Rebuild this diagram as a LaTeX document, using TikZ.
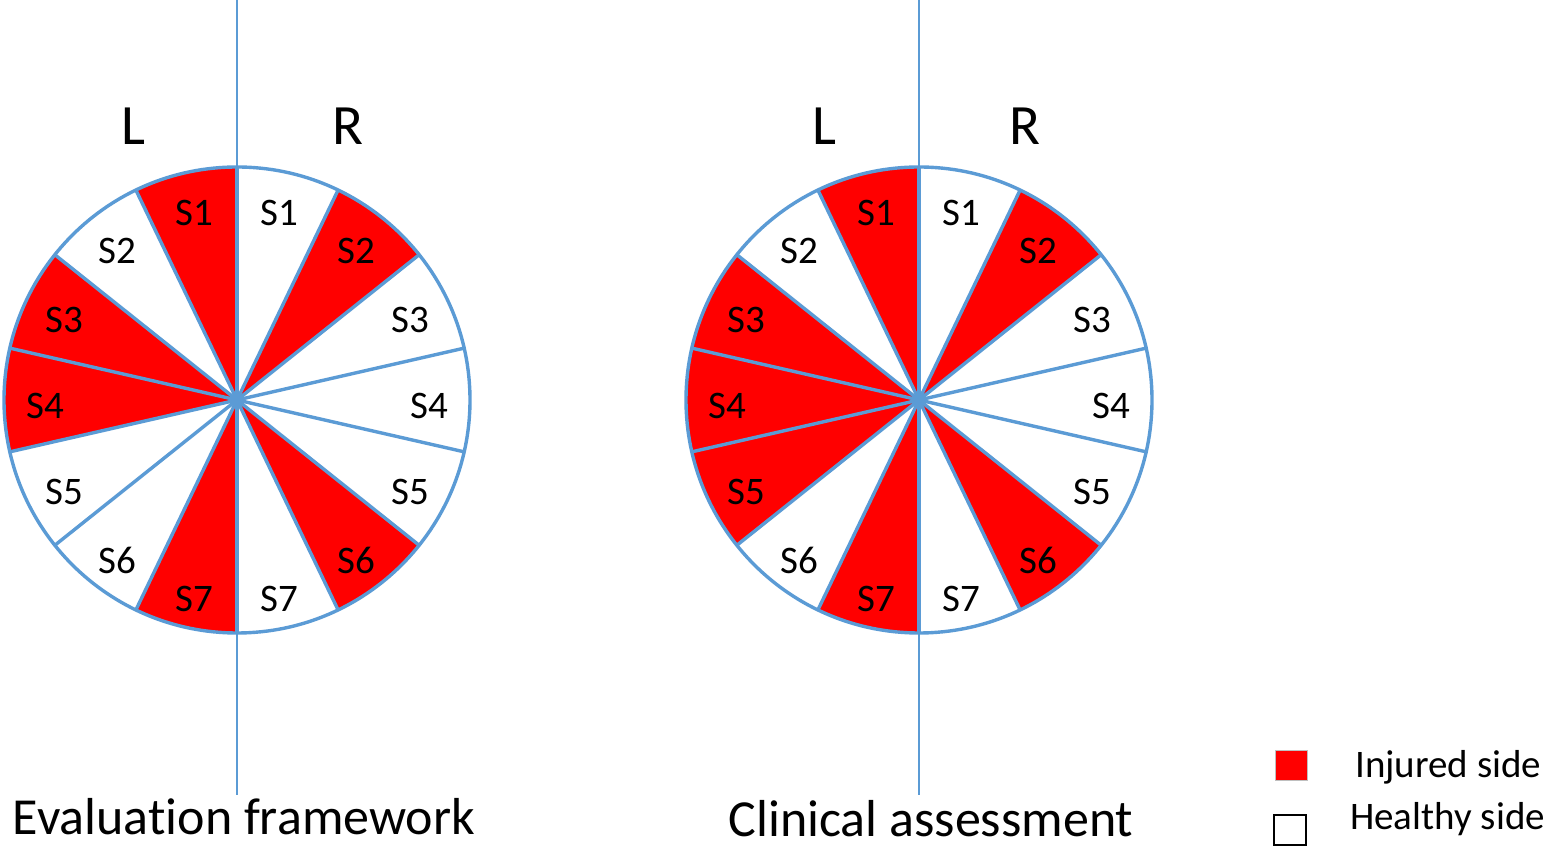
\documentclass[tikz,border=0pt]{standalone}
\usepackage{fontspec}
\setmainfont{Carlito}[Ligatures=NoCommon]
\usetikzlibrary{calc,positioning}
\definecolor{spineblue}{RGB}{91,155,213}
\definecolor{injured}{RGB}{255,0,0}
\newdimen\rdim
\rdim=233pt
\def\secang{25.7142857}
\def\lx{192}
\def\ly{198}
\tikzstyle{sector}=[
  draw=spineblue,
  line width=3.4pt,
  line join=round,
]
\tikzstyle{axis}=[
  draw=spineblue,
  line width=2.8pt,
]
\tikzstyle{seglabel}=[
  font={\fontsize{39}{39}\selectfont},
  inner sep=0pt,
]
\tikzstyle{sidelabel}=[
  font={\fontsize{57}{57}\selectfont},
  inner sep=0pt,
  anchor=base,
]
\tikzstyle{caption}=[
  font={\fontsize{52}{52}\selectfont},
  inner sep=0pt,
  anchor=base,
]
\tikzstyle{legendbox}=[
  minimum width=32pt,
  minimum height=30pt,
  inner sep=0pt,
]
\tikzstyle{legendtext}=[
  font={\fontsize{39}{39}\selectfont},
  inner sep=0pt,
  anchor=base west,
]
% one pie: #1 centre, #2 fills of L S1..S7, #3 fills of R S1..S7
\newcommand{\drawpie}[3]{%
  \foreach \fc [count=\i] in {#2} {
    \fill[\fc] (#1) -- ++(90+\i*\secang-\secang:\rdim)
      arc[start angle=90+\i*\secang-\secang, delta angle=\secang, radius=\rdim] -- cycle;
    \pgfmathsetmacro\a{90+\i*\secang-.5*\secang}
    \node[seglabel] (#1-L\i) at ($(#1)+(0,-6)+({\lx*cos(\a)},{\ly*sin(\a)})$) {S\i};
  }
  \foreach \fc [count=\i] in {#3} {
    \fill[\fc] (#1) -- ++(90-\i*\secang+\secang:\rdim)
      arc[start angle=90-\i*\secang+\secang, delta angle=-\secang, radius=\rdim] -- cycle;
    \pgfmathsetmacro\a{90-\i*\secang+.5*\secang}
    \node[seglabel] (#1-R\i) at ($(#1)+(0,-6)+({\lx*cos(\a)},{\ly*sin(\a)})$) {S\i};
  }
  \foreach \k in {0,...,13}
    \draw[sector] (#1) -- ++(90+\k*\secang:\rdim);
  \draw[sector] (#1) circle[radius=\rdim];
}

\begin{document}
\begin{tikzpicture}[x=1pt,y=1pt]
  \useasboundingbox (0,0) rectangle (1548,848);
  \coordinate (evalc) at (237,448);
  \coordinate (clinc) at (919,448);
  \coordinate (evaltop) at (237,848);
  \coordinate (evalbot) at (237,53);
  \coordinate (clintop) at (919,848);
  \coordinate (clinbot) at (919,53);
  %% evaluation framework
  \drawpie{evalc}{injured,white,injured,injured,white,white,injured}
    {white,injured,white,white,white,injured,white}
  \draw[axis] (evaltop) -- (evalbot);
  \node[sidelabel] (evalL) at (133,703) {L};
  \node[sidelabel] (evalR) at (348,703) {R};
  \node[caption] (evalcap) at (244,13) {Evaluation framework};
  %% clinical assessment
  \drawpie{clinc}{injured,white,injured,injured,injured,white,injured}
    {white,injured,white,white,white,injured,white}
  \draw[axis] (clintop) -- (clinbot);
  \node[sidelabel] (clinL) at (824,703) {L};
  \node[sidelabel] (clinR) at (1025,703) {R};
  \node[caption] (clincap) at (931,11) {Clinical assessment};
  %% legend
  \node[legendbox, fill=injured, draw=black!25] (injbox) at (1291,83) {};
  \node[legendtext] (injtext) at (1355,70) {Injured side};
  \node[legendbox, fill=white, draw=black, line width=1.6pt] (healbox) at (1290,18) {};
  \node[legendtext] (healtext) at (1350,18) {Healthy side};
\end{tikzpicture}
\end{document}
